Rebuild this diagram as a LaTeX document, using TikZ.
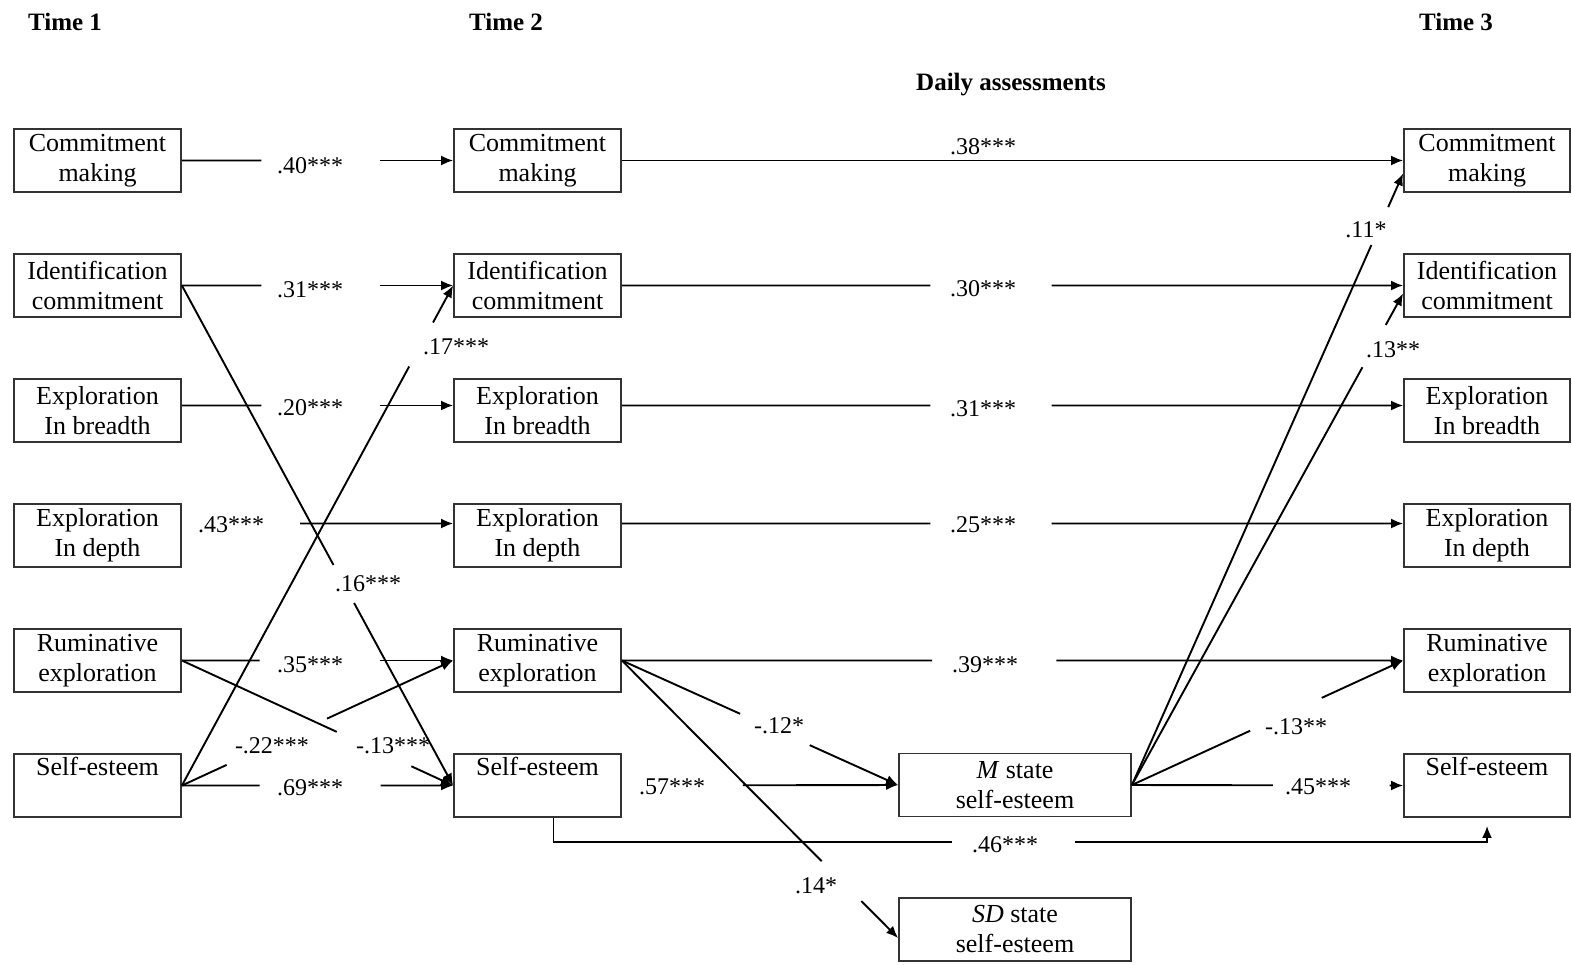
\documentclass[tikz,border=0pt]{standalone}
\usepackage{fontspec}
\setmainfont{Liberation Serif}
\usetikzlibrary{arrows.meta,calc}
\newcommand\gapconn[7]{% #1 start, #2 end, #3 t1, #4 t2, #5 label name, #6 label pos, #7 label text
  \draw[ln] (#1) -- ($(#1)!#3!(#2)$);
  \draw[arr] ($(#1)!#4!(#2)$) -- (#2);
  \node[lab] (#5) at (#6) {#7};}
\begin{document}
\begin{tikzpicture}[x=0.5pt,y=-0.5pt,
  box/.style={draw=black!80, line width=0.9pt, minimum width=83.5pt, minimum height=31.5pt,
    inner sep=0pt, align=center, font=\fontsize{13}{15}\selectfont},
  lab/.style={inner sep=0pt, font=\fontsize{12}{14}\selectfont},
  hd/.style={inner sep=0pt, font=\fontsize{12.5}{14}\selectfont\bfseries},
  ln/.style={line width=0.95pt},
  arr/.style={ln, -{Latex[length=6pt,width=5pt]}},
]
\useasboundingbox (0,0) rectangle (1572,964);

% headers
\node[hd] (h1) at (65,22) {Time 1};
\node[hd] (h2) at (506,22) {Time 2};
\node[hd] (h3) at (1456,22) {Time 3};
\node[hd] (hd) at (1011,85) {Daily assessments};

% Time 1
\node[box] (a1) at (97.5,160.5) {Commitment\\making};
\node[box] (b1) at (97.5,285.5) {Identification\\commitment};
\node[box] (c1) at (97.5,410.5) {Exploration\\In breadth};
\node[box] (d1) at (97.5,535.5) {Exploration\\In depth};
\node[box] (e1) at (97.5,660.5) {Ruminative\\exploration};
\node[box] (f1) at (97.5,785.5) {Self-esteem\\\strut};
% Time 2
\node[box] (a2) at (537.5,160.5) {Commitment\\making};
\node[box] (b2) at (537.5,285.5) {Identification\\commitment};
\node[box] (c2) at (537.5,410.5) {Exploration\\In breadth};
\node[box] (d2) at (537.5,535.5) {Exploration\\In depth};
\node[box] (e2) at (537.5,660.5) {Ruminative\\exploration};
\node[box] (f2) at (537.5,785.5) {Self-esteem\\\strut};
% Time 3
\node[box, minimum width=83pt] (a3) at (1487,160.5) {Commitment\\making};
\node[box, minimum width=83pt] (b3) at (1487,285.5) {Identification\\commitment};
\node[box, minimum width=83pt] (c3) at (1487,410.5) {Exploration\\In breadth};
\node[box, minimum width=83pt] (d3) at (1487,535.5) {Exploration\\In depth};
\node[box, minimum width=83pt] (e3) at (1487,660.5) {Ruminative\\exploration};
\node[box, minimum width=83pt] (f3) at (1487,785.5) {Self-esteem\\\strut};
% daily
\node[box, minimum width=116pt] (m) at (1015,785) {\textit{M} state\\self-esteem};
\node[box, minimum width=116pt] (sd) at (1015,929.5) {\textit{SD} state\\self-esteem};

% helper coordinates
\coordinate (c1r) at ($(c1.east)+(0,-5)$);
\coordinate (c2l) at ($(c2.west)+(0,-5)$);
\coordinate (c2r) at ($(c2.east)+(0,-5)$);
\coordinate (c3l) at ($(c3.west)+(0,-5)$);
\coordinate (d1r) at ($(d1.east)+(0,-12)$);
\coordinate (d2l) at ($(d2.west)+(0,-12)$);
\coordinate (d2r) at ($(d2.east)+(0,-12)$);
\coordinate (d3l) at ($(d3.west)+(0,-12)$);
\coordinate (sdl) at ($(sd.west)+(0,8.5)$);
\coordinate (a3l) at ($(a3.west)+(0,13)$);
\coordinate (b3l) at ($(b3.west)+(0,8)$);

% Time 1 -> Time 2
\gapconn{a1.east}{a2.west}{0.293}{0.729}{l1}{310,166}{.40***}
\gapconn{b1.east}{b2.west}{0.293}{0.729}{l2}{310,290}{.31***}
\gapconn{c1r}{c2l}{0.293}{0.729}{l3}{310,408}{.20***}
\draw[arr] ($(d1r)!0.436!(d2l)$) -- (d2l);
\node[lab] (l4) at (231,525) {.43***};
\gapconn{e1.east}{e2.west}{0.287}{0.729}{l5}{310,665}{.35***}
\gapconn{f1.east}{f2.west}{0.287}{0.733}{l6}{310,788}{.69***}

% cross paths Time 1 -> Time 2
\gapconn{b1.east}{f2.west}{0.559}{0.635}{l7}{368,584}{.16***}
\gapconn{f1.east}{b2.west}{0.838}{0.926}{l8}{456,347}{.17***}
\gapconn{f1.east}{e2.west}{0.165}{0.535}{l9}{272,746}{-.22***}
\gapconn{e1.east}{f2.west}{0.571}{0.846}{l10}{393,746}{-.13***}

% Time 2 -> Time 3
\draw[arr] (a2.east) -- (a3.west);
\node[lab] (l11) at (983,147) {.38***};
\gapconn{b2.east}{b3.west}{0.395}{0.550}{l12}{983,289}{.30***}
\gapconn{c2r}{c3l}{0.395}{0.550}{l13}{983,409}{.31***}
\gapconn{d2r}{d3l}{0.395}{0.550}{l14}{983,525}{.25***}
\gapconn{e2.east}{e3.west}{0.397}{0.556}{l15}{985,665}{.39***}

% Time 2 -> daily
\gapconn{e2.east}{m.west}{0.428}{0.680}{l16}{779,726}{-.12*}
\gapconn{e2.east}{sdl}{0.723}{0.867}{l17}{816,886}{.14*}
\draw[arr, shorten <=60.5pt] (f2.east) -- (m.west);
\node[lab] (l18) at (672,787) {.57***};

% Time 2 self-esteem -> Time 3 self-esteem
\coordinate (s46) at ($(f2.south)+(16,0)$);
\coordinate (g46a) at (952,842);
\coordinate (g46b) at (1075,842);
\draw[ln] (s46) |- (g46a);
\draw[arr, shorten >=4pt] (g46b) -| (f3.south);
\node[lab] (l19) at (1005,845) {.46***};

% daily -> Time 3
\gapconn{m.east}{a3l}{0.883}{0.945}{l20}{1366,230}{.11*}
\gapconn{m.east}{b3l}{0.850}{0.936}{l21}{1393,350}{.13**}
\gapconn{m.east}{e3.west}{0.436}{0.700}{l22}{1296,727}{-.13**}
\gapconn{m.east}{f3.west}{0.520}{0.950}{l23}{1318,787}{.45***}
\end{tikzpicture}
\end{document}
